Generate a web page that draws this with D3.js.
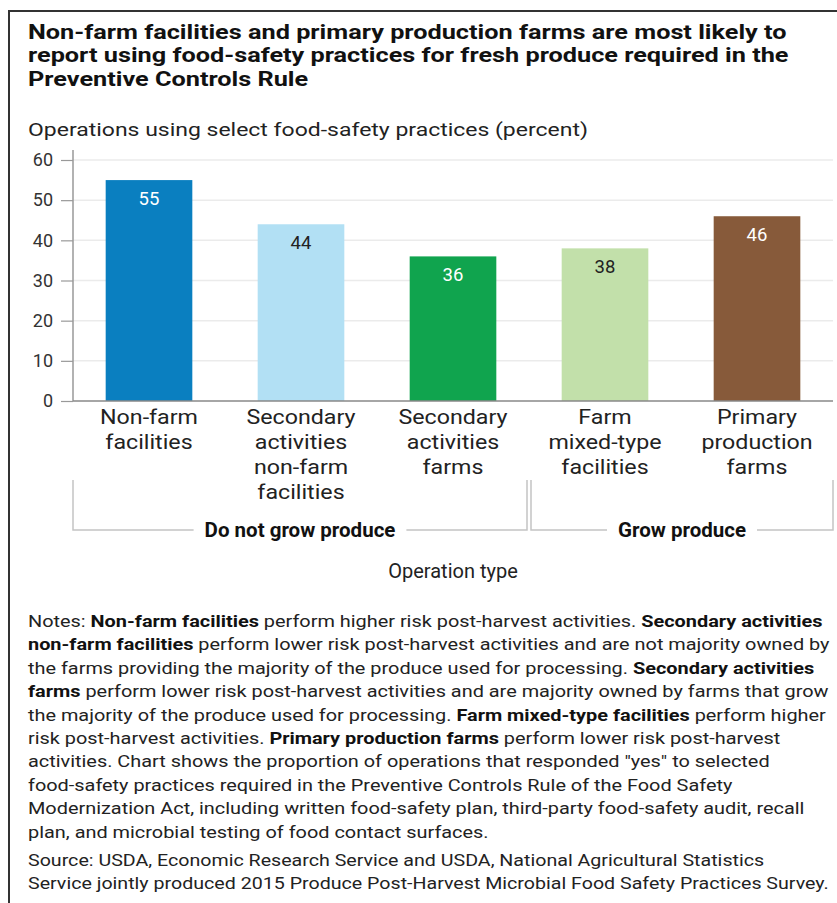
<!DOCTYPE html>
<html>
<head>
<meta charset="utf-8">
<script src="https://cdn.jsdelivr.net/npm/d3@7"></script>
<style>
  body { margin: 0; background: #fff; }
  text { font-family: Roboto, "Liberation Sans", sans-serif; }
</style>
</head>
<body>
<svg id="chart" width="837" height="903"></svg>
<script>
const categories = ['nonfarm', 'secNonfarm', 'secFarms', 'farmMixed', 'primary'];
const categoryLabels = [
    ['Non-farm', 'facilities'],
    ['Secondary', 'activities', 'non-farm', 'facilities'],
    ['Secondary', 'activities', 'farms'],
    ['Farm', 'mixed-type', 'facilities'],
    ['Primary', 'production', 'farms']
];
const values = [55, 44, 36, 38, 46];
const barColors = ['#0a7fc0', '#b2e0f4', '#10a44e', '#c2e0aa', '#875a3a'];
const valueColors = ['#fff', '#222', '#fff', '#222', '#fff'];
const yTicks = [0, 10, 20, 30, 40, 50, 60];
const groupNames = ['Do not grow produce', 'Grow produce'];
const groupSpans = [[0, 2], [3, 4]];

const titleLines = [
    'Non-farm facilities and primary production farms are most likely to',
    'report using food-safety practices for fresh produce required in the',
    'Preventive Controls Rule'
];
const yTitle = 'Operations using select food-safety practices (percent)';
const xTitle = 'Operation type';

// each line: list of [text, bold]
const noteLines = [
    [['Notes: ', 0], ['Non-farm facilities', 1], [' perform higher risk post-harvest activities. ', 0], ['Secondary activities', 1]],
    [['non-farm facilities', 1], [' perform lower risk post-harvest activities and are not majority owned by', 0]],
    [['the farms providing the majority of the produce used for processing. ', 0], ['Secondary activities', 1]],
    [['farms', 1], [' perform lower risk post-harvest activities and are majority owned by farms that grow', 0]],
    [['the majority of the produce used for processing. ', 0], ['Farm mixed-type facilities', 1], [' perform higher', 0]],
    [['risk post-harvest activities. ', 0], ['Primary production farms', 1], [' perform lower risk post-harvest', 0]],
    [['activities. Chart shows the proportion of operations that responded "yes" to selected', 0]],
    [['food-safety practices required in the Preventive Controls Rule of the Food Safety', 0]],
    [['Modernization Act, including written food-safety plan, third-party food-safety audit, recall', 0]],
    [['plan, and microbial testing of food contact surfaces.', 0]]
];
const sourceLines = [
    'Source: USDA, Economic Research Service and USDA, National Agricultural Statistics',
    'Service jointly produced 2015 Produce Post-Harvest Microbial Food Safety Practices Survey.'
];

const width = 837;
const height = 903;

const svg = d3.select('#chart');

// frame
svg.append('path')
    .attr('d', `M9,${height} V11 H${width}`)
    .attr('fill', 'none')
    .attr('stroke', '#333')
    .attr('stroke-width', 2);

// squeeze/stretch a group of left-aligned lines so one reference line hits a width
function fitGroup(g, refNode, target) {
    const w = refNode.getComputedTextLength();
    const sx = target / w;
    g.attr('transform', `translate(28,0) scale(${sx},1)`);
}

// title
const titleG = svg.append('g');
titleG.selectAll('text')
    .data(titleLines)
    .join('text')
    .attr('x', 0)
    .attr('y', (d, i) => 39 + i * 23.4)
    .attr('font-size', 21)
    .attr('font-weight', 700)
    .attr('fill', '#111')
    .text(d => d);
fitGroup(titleG, titleG.select('text').node(), 759);

// y title
const yTitleG = svg.append('g');
const yTitleText = yTitleG.append('text')
    .attr('x', 0)
    .attr('y', 136)
    .attr('font-size', 19)
    .attr('fill', '#222')
    .text(yTitle);
fitGroup(yTitleG, yTitleText.node(), 560);

// scales
const x = d3.scaleBand()
    .domain(categories)
    .range([73, 833])
    .paddingInner(0.43)
    .paddingOuter(0.215);

const y = d3.scaleLinear()
    .domain([0, 60])
    .range([401, 160]);

// gridlines
svg.append('g')
    .selectAll('line')
    .data(yTicks.filter(d => d > 0))
    .join('line')
    .attr('x1', 73)
    .attr('x2', 833)
    .attr('y1', d => y(d))
    .attr('y2', d => y(d))
    .attr('stroke', '#ebebeb')
    .attr('stroke-width', 1.5);

// y axis
const yAxis = svg.append('g')
    .attr('transform', 'translate(73,0)')
    .call(d3.axisLeft(y).tickValues(yTicks).tickSize(12).tickPadding(8));
yAxis.select('.domain')
    .attr('d', `M0,150 V${y(0)}`)
    .attr('stroke', '#999')
    .attr('stroke-width', 1.5);
yAxis.selectAll('.tick line').attr('stroke', '#999').attr('stroke-width', 1.2);
yAxis.selectAll('.tick text')
    .attr('font-size', 18)
    .attr('fill', '#333')
    .attr('font-family', 'Roboto, sans-serif');

// bars
svg.append('g')
    .selectAll('rect')
    .data(categories)
    .join('rect')
    .attr('x', d => x(d))
    .attr('width', x.bandwidth())
    .attr('y', (d, i) => y(values[i]))
    .attr('height', (d, i) => y(0) - y(values[i]))
    .attr('fill', (d, i) => barColors[i]);

// value labels
svg.append('g')
    .selectAll('text')
    .data(categories)
    .join('text')
    .attr('x', d => x(d) + x.bandwidth() / 2)
    .attr('y', (d, i) => y(values[i]) + 25)
    .attr('text-anchor', 'middle')
    .attr('font-size', 18.5)
    .attr('fill', (d, i) => valueColors[i])
    .text((d, i) => values[i]);

// baseline
svg.append('line')
    .attr('x1', 73).attr('x2', 833)
    .attr('y1', y(0)).attr('y2', y(0))
    .attr('stroke', '#888')
    .attr('stroke-width', 1.5);

// category labels
const catG = svg.append('g');
categories.forEach((c, i) => {
    const cx = x(c) + x.bandwidth() / 2;
    catG.append('g')
        .attr('class', 'cat')
        .attr('transform', `translate(${cx},0)`)
        .selectAll('text')
        .data(categoryLabels[i])
        .join('text')
        .attr('x', 0)
        .attr('y', (d, j) => 424 + j * 25)
        .attr('text-anchor', 'middle')
        .attr('font-size', 20.5)
        .attr('fill', '#222')
        .text(d => d);
});
{
    const ref = catG.select('.cat text').node();
    const sx = 98 / ref.getComputedTextLength();
    catG.selectAll('.cat').each(function () {
        const t = d3.select(this).attr('transform');
        d3.select(this).attr('transform', `${t} scale(${sx},1)`);
    });
}

// group brackets
const step = x.step();
const r0 = x.range()[0];
groupNames.forEach((name, i) => {
    const [a, b] = groupSpans[i];
    const left = r0 + a * step + (a > 0 ? 2 : 0);
    const right = r0 + (b + 1) * step - (b < categories.length - 1 ? 2 : 0);
    const mid = (left + right) / 2;
    const label = svg.append('text')
        .attr('x', mid)
        .attr('y', 537)
        .attr('text-anchor', 'middle')
        .attr('font-size', 20.5)
        .attr('font-weight', 700)
        .attr('fill', '#111')
        .text(name);
    const half = label.node().getComputedTextLength() / 2 + 11;
    svg.append('path')
        .attr('d', `M${left},480 V530 H${mid - half} M${mid + half},530 H${right} V480`)
        .attr('fill', 'none')
        .attr('stroke', '#c4c4c4')
        .attr('stroke-width', 1.5);
});

// x title
svg.append('text')
    .attr('x', (x.range()[0] + x.range()[1]) / 2)
    .attr('y', 578)
    .attr('text-anchor', 'middle')
    .attr('font-size', 20)
    .attr('fill', '#222')
    .text(xTitle);

// notes
const notesG = svg.append('g');
noteLines.forEach((segs, i) => {
    const t = notesG.append('text')
        .attr('x', 0)
        .attr('y', 627 + i * 23.4)
        .attr('font-size', 16.5)
        .attr('fill', '#222');
    segs.forEach(([s, b]) => {
        t.append('tspan')
            .attr('font-weight', b ? 700 : 400)
            .attr('fill', b ? '#111' : '#222')
            .text(s);
    });
});
fitGroup(notesG, notesG.select('text').node(), 795);

// source
const sourceG = svg.append('g');
sourceG.selectAll('text')
    .data(sourceLines)
    .join('text')
    .attr('x', 0)
    .attr('y', (d, i) => 866 + i * 23.4)
    .attr('font-size', 16.5)
    .attr('fill', '#222')
    .text(d => d);
fitGroup(sourceG, sourceG.selectAll('text').nodes()[1], 801);
</script>
</body>
</html>
